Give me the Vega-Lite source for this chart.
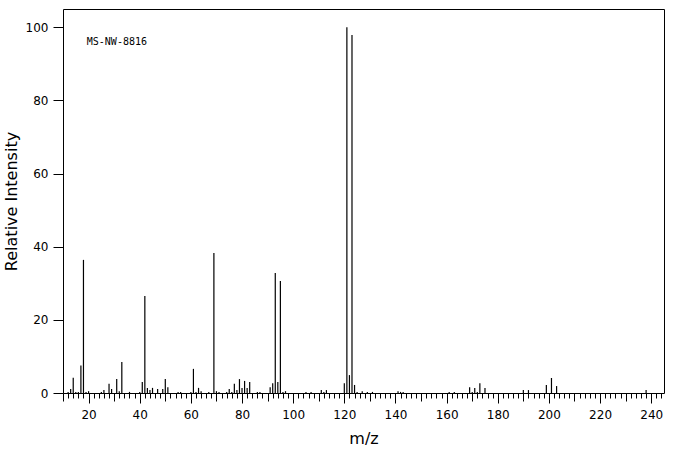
{
  "$schema": "https://vega.github.io/schema/vega-lite/v6.json",
  "width": 601,
  "height": 384,
  "autosize": {"type": "none"},
  "padding": {"left": 63, "top": 9, "right": 12, "bottom": 62},
  "background": "white",
  "config": {
    "view": {"stroke": "black", "strokeWidth": 1},
    "axis": {
      "domainColor": "black",
      "tickColor": "black",
      "tickWidth": 1,
      "labelColor": "black",
      "titleColor": "black",
      "labelFont": "DejaVu Sans",
      "titleFont": "DejaVu Sans",
      "labelFontSize": 12,
      "titleFontSize": 16,
      "titleFontWeight": "normal",
      "grid": false
    }
  },
  "datasets": {
    "peaks": [
      {"mz": 12, "intensity": 0.3}, {"mz": 13, "intensity": 1.1}, {"mz": 14, "intensity": 4.2},
      {"mz": 15, "intensity": 0.3}, {"mz": 16, "intensity": 0.3}, {"mz": 17, "intensity": 7.5},
      {"mz": 18, "intensity": 36.4}, {"mz": 19, "intensity": 0.3}, {"mz": 20, "intensity": 0.5},
      {"mz": 25, "intensity": 0.3}, {"mz": 26, "intensity": 0.8}, {"mz": 28, "intensity": 2.5},
      {"mz": 29, "intensity": 1.1}, {"mz": 31, "intensity": 3.8}, {"mz": 32, "intensity": 0.5},
      {"mz": 33, "intensity": 8.5}, {"mz": 36, "intensity": 0.3}, {"mz": 40, "intensity": 0.3},
      {"mz": 41, "intensity": 3.0}, {"mz": 42, "intensity": 26.5}, {"mz": 43, "intensity": 1.4},
      {"mz": 44, "intensity": 0.8}, {"mz": 45, "intensity": 1.4}, {"mz": 47, "intensity": 1.1},
      {"mz": 49, "intensity": 1.1}, {"mz": 50, "intensity": 3.8}, {"mz": 51, "intensity": 1.6},
      {"mz": 55, "intensity": 0.3}, {"mz": 56, "intensity": 0.3}, {"mz": 60, "intensity": 0.3},
      {"mz": 61, "intensity": 6.6}, {"mz": 62, "intensity": 0.3}, {"mz": 63, "intensity": 1.4},
      {"mz": 64, "intensity": 0.5}, {"mz": 67, "intensity": 0.3}, {"mz": 69, "intensity": 38.3},
      {"mz": 70, "intensity": 0.5}, {"mz": 71, "intensity": 0.3}, {"mz": 74, "intensity": 0.3},
      {"mz": 75, "intensity": 1.1}, {"mz": 76, "intensity": 0.3}, {"mz": 77, "intensity": 2.5},
      {"mz": 78, "intensity": 0.8}, {"mz": 79, "intensity": 3.8}, {"mz": 80, "intensity": 1.4},
      {"mz": 81, "intensity": 3.3}, {"mz": 82, "intensity": 1.4}, {"mz": 83, "intensity": 3.0},
      {"mz": 86, "intensity": 0.3}, {"mz": 87, "intensity": 0.3}, {"mz": 91, "intensity": 1.6},
      {"mz": 92, "intensity": 2.7}, {"mz": 93, "intensity": 32.8}, {"mz": 94, "intensity": 3.0},
      {"mz": 95, "intensity": 30.6}, {"mz": 96, "intensity": 0.3}, {"mz": 97, "intensity": 0.5},
      {"mz": 105, "intensity": 0.3}, {"mz": 107, "intensity": 0.3}, {"mz": 111, "intensity": 0.8},
      {"mz": 112, "intensity": 0.3}, {"mz": 113, "intensity": 0.8}, {"mz": 120, "intensity": 2.7},
      {"mz": 121, "intensity": 100}, {"mz": 122, "intensity": 4.9}, {"mz": 123, "intensity": 97.9},
      {"mz": 124, "intensity": 2.2}, {"mz": 125, "intensity": 0.3}, {"mz": 127, "intensity": 0.5},
      {"mz": 129, "intensity": 0.3}, {"mz": 131, "intensity": 0.3}, {"mz": 141, "intensity": 0.5},
      {"mz": 142, "intensity": 0.3}, {"mz": 143, "intensity": 0.3}, {"mz": 161, "intensity": 0.3},
      {"mz": 163, "intensity": 0.3}, {"mz": 169, "intensity": 1.6}, {"mz": 170, "intensity": 0.3},
      {"mz": 171, "intensity": 1.4}, {"mz": 172, "intensity": 0.3}, {"mz": 173, "intensity": 2.7},
      {"mz": 175, "intensity": 1.4}, {"mz": 190, "intensity": 0.8}, {"mz": 192, "intensity": 0.8},
      {"mz": 199, "intensity": 2.2}, {"mz": 201, "intensity": 4.1}, {"mz": 203, "intensity": 1.9},
      {"mz": 238, "intensity": 0.8}
    ],
    "annot": [
      {"label": "MS-NW-8816", "mz": 19.3, "intensity": 96}
    ]
  },
  "layer": [
    {
      "data": {"name": "peaks"},
      "mark": {"type": "rule", "color": "black", "strokeWidth": 1.2},
      "encoding": {
        "x": {
          "field": "mz",
          "type": "quantitative",
          "scale": {"domain": [10, 245], "nice": false, "zero": false},
          "axis": {
            "values": [10, 20, 30, 40, 50, 60, 70, 80, 90, 100, 110, 120, 130, 140, 150, 160, 170, 180, 190, 200, 210, 220, 230, 240],
            "tickSize": {"condition": {"test": "datum.value % 20 === 0", "value": 10}, "value": 8},
            "labelExpr": "datum.value % 20 === 0 ? datum.label : ''",
            "labelFlush": false,
            "labelPadding": 6,
            "title": "m/z",
            "titlePadding": 10,
            "domain": false
          }
        },
        "y": {
          "field": "intensity",
          "type": "quantitative",
          "scale": {"domain": [0, 105], "nice": false},
          "axis": {
            "values": [0, 10, 20, 30, 40, 50, 60, 70, 80, 90, 100],
            "tickSize": {"condition": {"test": "datum.value % 20 === 0", "value": 10}, "value": 5},
            "labelExpr": "datum.value % 20 === 0 ? datum.label : ''",
            "labelFlush": false,
            "labelPadding": 5,
            "title": "Relative Intensity",
            "titlePadding": 6,
            "domain": false
          }
        },
        "y2": {"datum": 0}
      }
    },
    {
      "data": {"name": "annot"},
      "mark": {"type": "text", "align": "left", "baseline": "middle", "font": "DejaVu Sans Mono", "fontSize": 10, "color": "black"},
      "encoding": {
        "x": {
          "field": "mz",
          "type": "quantitative",
          "axis": {
            "orient": "bottom",
            "values": [12, 14, 16, 18, 22, 24, 26, 28, 32, 34, 36, 38, 42, 44, 46, 48, 52, 54, 56, 58, 62, 64, 66, 68, 72, 74, 76, 78, 82, 84, 86, 88, 92, 94, 96, 98, 102, 104, 106, 108, 112, 114, 116, 118, 122, 124, 126, 128, 132, 134, 136, 138, 142, 144, 146, 148, 152, 154, 156, 158, 162, 164, 166, 168, 172, 174, 176, 178, 182, 184, 186, 188, 192, 194, 196, 198, 202, 204, 206, 208, 212, 214, 216, 218, 222, 224, 226, 228, 232, 234, 236, 238, 242, 244],
            "tickSize": 5,
            "labels": false,
            "domain": false,
            "title": null
          }
        },
        "y": {"field": "intensity", "type": "quantitative"},
        "text": {"field": "label"}
      }
    }
  ],
  "resolve": {"axis": {"x": "independent"}}
}
